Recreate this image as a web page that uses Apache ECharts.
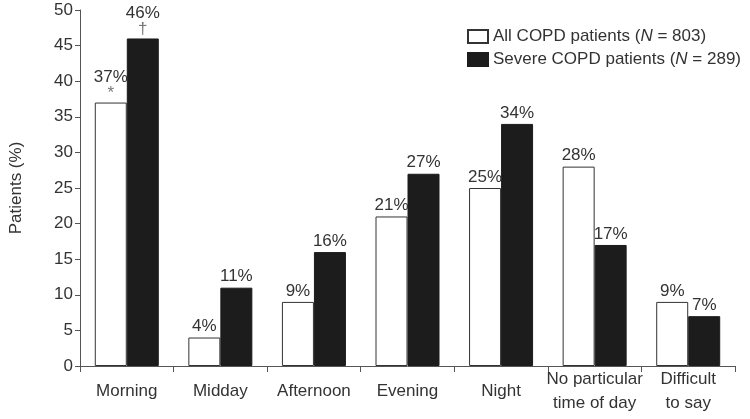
<!DOCTYPE html>
<html><head><meta charset="utf-8">
<script src="https://cdn.jsdelivr.net/npm/echarts@6/dist/echarts.min.js"></script>
<style>html,body{margin:0;padding:0;background:#fff}#c{width:750px;height:419px}</style>
</head><body><div id="c"></div>
<script>
const categories = ['Morning','Midday','Afternoon','Evening','Night','No particular\ntime of day','Difficult\nto say'];
const allPatients = [37, 4, 9, 21, 25, 28, 9];
const severePatients = [46, 11, 16, 27, 34, 17, 7];
const allMarks = ['*', '', '', '', '', '', ''];
const severeMarks = ['†', '', '', '', '', '', ''];
const yTicks = {min: 0, max: 50, interval: 5};
const seriesNames = ['All COPD patients (N = 803)', 'Severe COPD patients (N = 289)'];

const font = '"Liberation Sans", Arial, Helvetica, sans-serif';
const textColor = '#333';
const axisColor = '#555';
const fs = 17;

function labelFmt(marks){
  return p => marks[p.dataIndex] ? '{v|' + p.value + '%}\n{m|' + marks[p.dataIndex] + '}' : '{v|' + p.value + '%}';
}
const labelRich = {
  v: {fontSize: fs, color: textColor, fontFamily: font, lineHeight: 18},
  m: {fontSize: 17, color: '#777', fontFamily: font, lineHeight: 14}
};

const chart = echarts.init(document.getElementById('c'));
chart.setOption({
  animation: false,
  textStyle: {fontFamily: font},
  grid: {left: 72, right: 15, top: 10, bottom: 53},
  legend: {
    orient: 'vertical', left: 462, top: 23, itemWidth: 20, itemHeight: 13, itemGap: 6,
    icon: 'rect',
    data: seriesNames,
    formatter: n => n.replace('N =', '{i|N} ='),
    textStyle: {fontSize: fs, color: textColor, fontFamily: font,
      rich: {i: {fontSize: fs, fontStyle: 'italic', color: textColor, fontFamily: font}}}
  },
  xAxis: {
    type: 'category', data: categories,
    axisLine: {lineStyle: {color: axisColor, width: 1}},
    axisTick: {show: true, length: 6, lineStyle: {color: axisColor}},
    axisLabel: {fontSize: fs, color: textColor, fontFamily: font, interval: 0, margin: 25, verticalAlign: 'middle', lineHeight: 24}
  },
  yAxis: {
    type: 'value', min: yTicks.min, max: yTicks.max, interval: yTicks.interval,
    name: 'Patients (%)', nameLocation: 'middle', nameGap: 55,
    nameTextStyle: {fontSize: fs, color: textColor, fontFamily: font},
    axisLine: {show: true, lineStyle: {color: axisColor, width: 1}},
    axisTick: {show: true, length: 5, lineStyle: {color: axisColor}},
    splitLine: {show: false},
    axisLabel: {fontSize: fs, color: textColor, fontFamily: font, margin: 7}
  },
  series: [
    {
      name: seriesNames[0], type: 'bar', data: allPatients, barWidth: 32, barGap: '0%',
      itemStyle: {color: '#fff', borderColor: '#333', borderWidth: 1},
      label: {show: true, position: 'top', distance: 2, formatter: labelFmt(allMarks), rich: labelRich}
    },
    {
      name: seriesNames[1], type: 'bar', data: severePatients, barWidth: 32, barGap: '0%',
      itemStyle: {color: '#1c1c1c', borderColor: '#1c1c1c', borderWidth: 1},
      label: {show: true, position: 'top', distance: 2, formatter: labelFmt(severeMarks), rich: labelRich}
    }
  ]
});
</script></body></html>
